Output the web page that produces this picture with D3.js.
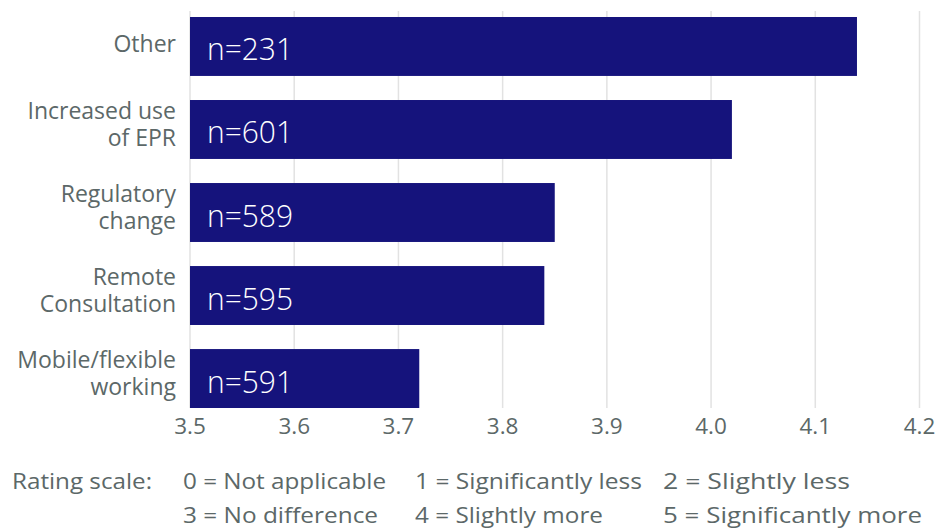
<!DOCTYPE html>
<html><head><meta charset="utf-8">
<script src="https://cdn.jsdelivr.net/npm/d3@7"></script>
<style>body{margin:0;background:#fff}svg{display:block}</style>
</head><body><svg id="c" width="939" height="531"></svg>
<script>
const categories = [["Other"],["Increased use","of EPR"],["Regulatory","change"],["Remote","Consultation"],["Mobile/flexible","working"]];
const values = [4.14, 4.02, 3.85, 3.84, 3.72];
const nLabels = ["n=231","n=601","n=589","n=595","n=591"];
const ticks = [3.5,3.6,3.7,3.8,3.9,4.0,4.1,4.2];
const legendRows = [
  ["Rating scale:","0 = Not applicable","1 = Significantly less","2 = Slightly less"],
  ["","3 = No difference","4 = Slightly more","5 = Significantly more"]
];

const svg = d3.select("#c");
const font = "'Open Sans', sans-serif";
const textCol = "#5c6868";
const x = d3.scaleLinear().domain([3.5,4.2]).range([190,919.5]);
const y = d3.scaleBand().domain(d3.range(categories.length)).range([17,408]).paddingInner(0.29).paddingOuter(0);

// gridlines
svg.append("g").selectAll("line").data(ticks).join("line")
  .attr("x1",d=>x(d)).attr("x2",d=>x(d)).attr("y1",11).attr("y2",408)
  .attr("stroke","#e2e2e2").attr("stroke-width",1.5);

// bars
svg.append("g").selectAll("rect").data(values).join("rect")
  .attr("x",x(3.5)).attr("y",(d,i)=>y(i))
  .attr("width",d=>x(d)-x(3.5)).attr("height",y.bandwidth())
  .attr("fill","#15137c");

// n labels
svg.append("g").selectAll("text").data(nLabels).join("text")
  .attr("x",x(3.5)+17).attr("y",(d,i)=>y(i)+y.bandwidth()/2+14)
  .attr("fill","#fff").attr("font-family",font).attr("font-weight",300)
  .attr("font-size",31).attr("textLength",86).attr("lengthAdjust","spacingAndGlyphs").text(d=>d);

// category labels
const cl = svg.append("g").selectAll("text").data(categories).join("text")
  .attr("text-anchor","end").attr("fill",textCol).attr("font-family",font).attr("font-size",23)
  .attr("y",(d,i)=>y(i)+y.bandwidth()/2);
cl.each(function(d){
  const t=d3.select(this);
  const lh=27;
  const start = d.length===1 ? 6 : -10.5;
  d.forEach((line,k)=>t.append("tspan").attr("x",176).attr("dy", k===0?start:lh).text(line));
});

// x axis tick labels
svg.append("g").selectAll("text").data(ticks).join("text")
  .attr("x",d=>x(d)).attr("y",434).attr("text-anchor","middle")
  .attr("fill",textCol).attr("font-family",font).attr("font-size",22.5)
  .text(d=>d3.format(".1f")(d));

// legend
const colX = [12,183,415,663];
const colW = [[140,203,227,187],[0,195,188,259]];
const rowY = [489,523];
legendRows.forEach((row,r)=>{
  row.forEach((txt,c)=>{
    if(!txt) return;
    svg.append("text").attr("x",colX[c]).attr("y",rowY[r])
      .attr("fill",textCol).attr("font-family",font).attr("font-size",22.5)
      .attr("textLength",colW[r][c]).attr("lengthAdjust","spacingAndGlyphs")
      .text(txt);
  });
});
</script></body></html>
